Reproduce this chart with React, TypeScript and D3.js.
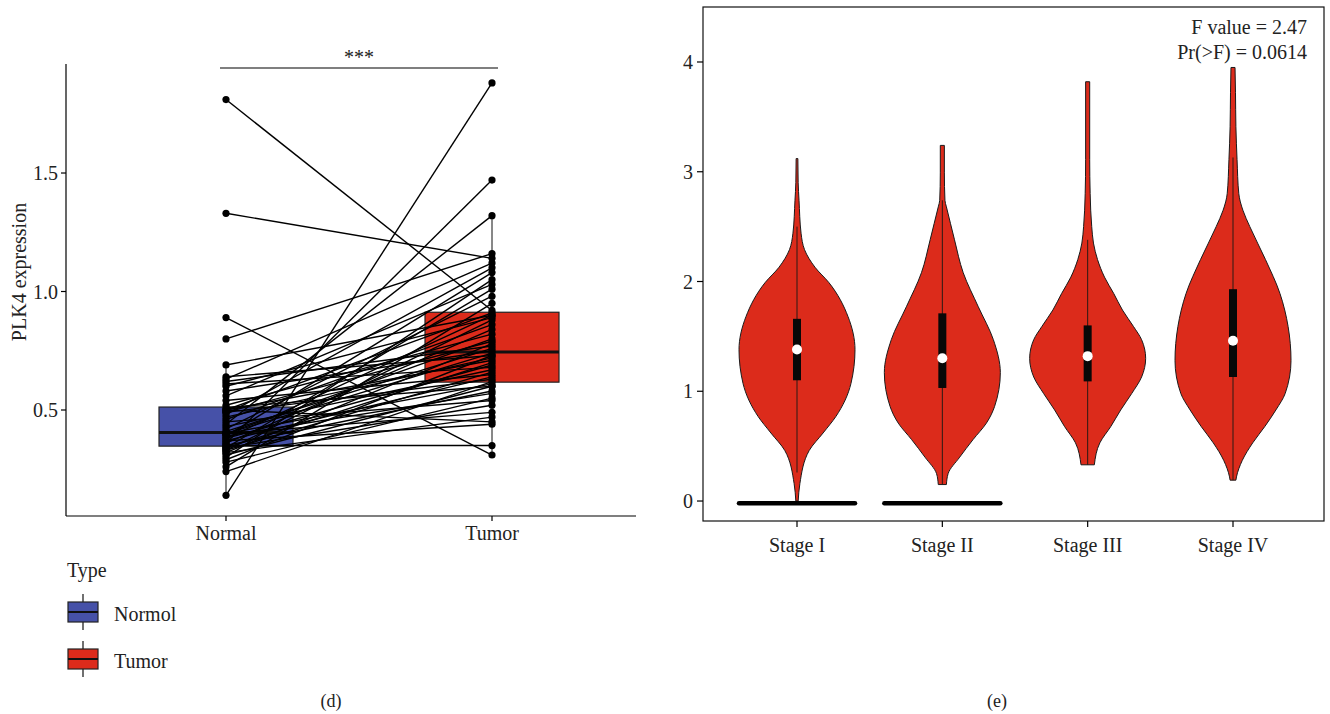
import React from "react";
import * as d3 from "d3";

// ---------- Panel (d): paired PLK4 expression ----------
const groups = ["Normal", "Tumor"];
const normalExpr = [1.81, 1.33, 0.89, 0.80, 0.14, 0.36, 0.44, 0.35, 0.24, 0.26, 0.28, 0.29, 0.30, 0.31, 0.32, 0.32, 0.33, 0.33, 0.34, 0.34, 0.34, 0.35, 0.36, 0.37, 0.37, 0.38, 0.38, 0.39, 0.39, 0.40, 0.40, 0.40, 0.40, 0.41, 0.42, 0.43, 0.45, 0.46, 0.47, 0.48, 0.49, 0.49, 0.50, 0.50, 0.50, 0.51, 0.52, 0.54, 0.56, 0.58, 0.60, 0.61, 0.62, 0.63, 0.64, 0.69];
const tumorExpr = [0.92, 1.14, 0.31, 1.16, 1.88, 1.47, 1.32, 0.35, 0.62, 0.95, 0.55, 0.73, 1.05, 0.60, 0.78, 0.47, 0.88, 0.66, 0.52, 1.01, 0.70, 0.58, 0.84, 0.64, 0.44, 0.90, 0.69, 0.57, 1.08, 0.74, 0.61, 0.80, 0.49, 0.76, 0.98, 0.67, 0.54, 0.86, 0.72, 1.10, 0.63, 0.79, 0.45, 0.91, 0.71, 0.60, 0.82, 0.65, 1.03, 0.75, 0.89, 0.68, 0.77, 1.12, 0.73, 0.90];
const leftTicks = [0.5, 1.0, 1.5];
const legendLabels = ["Normol", "Tumor"];
const groupColors = ["#4651A8", "#DC2B1B"];

// ---------- Panel (e): violin by stage ----------
const stages = ["Stage I", "Stage II", "Stage III", "Stage IV"];
// density profiles: [value, relative half-width]
const densStageI = [[0, 0.02], [0.16, 0.05], [0.46, 0.21], [0.62, 0.45], [0.77, 0.67], [1.07, 0.93], [1.38, 1.0], [1.68, 0.88], [1.99, 0.55], [2.13, 0.31], [2.29, 0.13], [2.44, 0.07], [2.74, 0.035], [2.9, 0.02], [3.12, 0.015]];
const densStageII = [[0.15, 0.07], [0.25, 0.1], [0.4, 0.3], [0.56, 0.53], [0.71, 0.76], [0.86, 0.9], [1.17, 1.0], [1.47, 0.88], [1.77, 0.62], [2.08, 0.36], [2.38, 0.21], [2.53, 0.14], [2.68, 0.07], [2.74, 0.045], [2.99, 0.035], [3.24, 0.035]];
const densStageIII = [[0.33, 0.115], [0.53, 0.21], [0.68, 0.4], [0.83, 0.57], [0.98, 0.76], [1.13, 0.93], [1.3, 1.0], [1.47, 0.93], [1.59, 0.79], [1.74, 0.6], [1.89, 0.45], [2.04, 0.29], [2.2, 0.17], [2.35, 0.1], [2.5, 0.07], [2.8, 0.043], [3.11, 0.035], [3.82, 0.035]];
const densStageIV = [[0.19, 0.05], [0.22, 0.06], [0.37, 0.16], [0.53, 0.34], [0.68, 0.55], [0.83, 0.74], [0.98, 0.9], [1.28, 1.0], [1.59, 0.95], [1.89, 0.81], [2.2, 0.56], [2.5, 0.29], [2.65, 0.17], [2.8, 0.1], [3.11, 0.07], [3.41, 0.05], [3.72, 0.043], [3.95, 0.035]];
const stageQ1 = [1.1, 1.03, 1.09, 1.13];
const stageMedian = [1.38, 1.3, 1.32, 1.46];
const stageQ3 = [1.66, 1.71, 1.6, 1.93];
const stageWhiskerLo = [0.26, 0.15, 0.33, 0.19];
const stageWhiskerHi = [2.5, 2.74, 2.38, 3.13];
const zeroBarStages = ["Stage I", "Stage II"];
const zeroBarValue = -0.02;
const rightTicks = [0, 1, 2, 3, 4];
const fValueText = "F value = 2.47";
const pValueText = "Pr(>F) = 0.0614";

const FONT = "'Liberation Serif', 'Times New Roman', serif";

function boxStats(vals: number[]) {
  const s = [...vals].sort((a, b) => a - b);
  const q1 = d3.quantileSorted(s, 0.25)!;
  const med = d3.quantileSorted(s, 0.5)!;
  const q3 = d3.quantileSorted(s, 0.75)!;
  const iqr = q3 - q1;
  const lo = d3.min(s.filter((v) => v >= q1 - 1.5 * iqr))!;
  const hi = d3.max(s.filter((v) => v <= q3 + 1.5 * iqr))!;
  return { q1, med, q3, lo, hi };
}

export default function App() {
  // left panel scales
  const yL = d3.scaleLinear().domain([0.0527, 1.96]).range([516, 64]);
  const xL = d3.scalePoint<string>().domain(groups).range([226, 492]);
  const boxHalf = 67;
  const stats = [boxStats(normalExpr), boxStats(tumorExpr)];

  // right panel scales
  const yR = d3.scaleLinear().domain([-0.182, 4.501]).range([521, 7]);
  const xR = d3.scalePoint<string>().domain(stages).range([797, 1233]);
  const violinHalf = 58;
  const dens = [densStageI, densStageII, densStageIII, densStageIV];

  const violinPath = (cx: number, pts: number[][]) =>
    d3
      .area<number[]>()
      .y((d) => yR(d[0]))
      .x0((d) => cx - d[1] * violinHalf)
      .x1((d) => cx + d[1] * violinHalf)
      .curve(d3.curveMonotoneY)(pts) || "";

  const fs = 20;

  return (
    <svg width={1330} height={714} style={{ position: "absolute", left: 0, top: 0, background: "#fff" }} fontFamily={FONT}>
      {/* ===== Left panel ===== */}
      {groups.map((g, i) => {
        const st = stats[i];
        const cx = xL(g)!;
        return (
          <g key={g}>
            <line x1={cx} x2={cx} y1={yL(st.lo)} y2={yL(st.hi)} stroke="#111" strokeWidth={1} />
            <rect x={cx - boxHalf} y={yL(st.q3)} width={boxHalf * 2} height={yL(st.q1) - yL(st.q3)} fill={groupColors[i]} stroke="#222" strokeWidth={1.2} />
            <line x1={cx - boxHalf} x2={cx + boxHalf} y1={yL(st.med)} y2={yL(st.med)} stroke="#111" strokeWidth={3} />
          </g>
        );
      })}
      {normalExpr.map((v, i) => (
        <line key={"pl" + i} x1={xL("Normal")!} y1={yL(v)} x2={xL("Tumor")!} y2={yL(tumorExpr[i])} stroke="#000" strokeWidth={1.4} />
      ))}
      {normalExpr.map((v, i) => (
        <g key={"pt" + i}>
          <circle cx={xL("Normal")!} cy={yL(v)} r={3.6} fill="#000" />
          <circle cx={xL("Tumor")!} cy={yL(tumorExpr[i])} r={3.6} fill="#000" />
        </g>
      ))}
      <line x1={66} x2={66} y1={64} y2={516} stroke="#000" strokeWidth={1.2} />
      <line x1={66} x2={636} y1={516} y2={516} stroke="#000" strokeWidth={1.2} />
      {leftTicks.map((t) => (
        <g key={"lt" + t}>
          <line x1={61} x2={66} y1={yL(t)} y2={yL(t)} stroke="#000" strokeWidth={1.2} />
          <text x={58} y={yL(t)} dy="0.35em" textAnchor="end" fontSize={fs} fill="#222">
            {t.toFixed(1)}
          </text>
        </g>
      ))}
      {groups.map((g) => (
        <g key={"lx" + g}>
          <line x1={xL(g)!} x2={xL(g)!} y1={516} y2={521} stroke="#000" strokeWidth={1.2} />
          <text x={xL(g)!} y={540} textAnchor="middle" fontSize={fs} fill="#222">
            {g}
          </text>
        </g>
      ))}
      <text transform="translate(26,272) rotate(-90)" textAnchor="middle" fontSize={fs} fill="#222">
        PLK4 expression
      </text>
      <line x1={220} x2={498} y1={68} y2={68} stroke="#000" strokeWidth={1.2} />
      <text x={359} y={64} textAnchor="middle" fontSize={fs} fill="#222">
        ***
      </text>
      <text x={67} y={577} fontSize={fs} fill="#222">
        Type
      </text>
      {legendLabels.map((lab, i) => {
        const top = 602 + i * 47;
        return (
          <g key={"lg" + lab}>
            <line x1={83} x2={83} y1={top - 8} y2={top + 28} stroke="#111" strokeWidth={1.2} />
            <rect x={68} y={top} width={30} height={20} fill={groupColors[i]} stroke="#222" strokeWidth={1.2} />
            <line x1={68} x2={98} y1={top + 10} y2={top + 10} stroke="#111" strokeWidth={2} />
            <text x={114} y={top + 19} fontSize={fs} fill="#222">
              {lab}
            </text>
          </g>
        );
      })}
      <text x={331} y={707} textAnchor="middle" fontSize={18} fill="#222">
        (d)
      </text>

      {/* ===== Right panel ===== */}
      <rect x={703} y={7} width={621} height={514} fill="none" stroke="#111" strokeWidth={1.2} />
      {stages.map((s, i) => {
        const cx = xR(s)!;
        return (
          <g key={s}>
            <path d={violinPath(cx, dens[i])} fill="#DC2B1B" stroke="#1a1a1a" strokeWidth={1} />
            <line x1={cx} x2={cx} y1={yR(stageWhiskerLo[i])} y2={yR(stageWhiskerHi[i])} stroke="#2a1a14" strokeWidth={1} />
            <rect x={cx - 4} y={yR(stageQ3[i])} width={8} height={yR(stageQ1[i]) - yR(stageQ3[i])} fill="#080808" />
            <circle cx={cx} cy={yR(stageMedian[i])} r={5} fill="#fff" />
          </g>
        );
      })}
      {zeroBarStages.map((s) => {
        const cx = xR(s)!;
        return (
          <line key={"zb" + s} x1={cx - violinHalf} x2={cx + violinHalf} y1={yR(zeroBarValue)} y2={yR(zeroBarValue)} stroke="#000" strokeWidth={4.5} strokeLinecap="round" />
        );
      })}
      {rightTicks.map((t) => (
        <g key={"rt" + t}>
          <line x1={697} x2={703} y1={yR(t)} y2={yR(t)} stroke="#000" strokeWidth={1.2} />
          <text x={693} y={yR(t)} dy="0.35em" textAnchor="end" fontSize={fs} fill="#222">
            {t}
          </text>
        </g>
      ))}
      {stages.map((s) => (
        <g key={"rx" + s}>
          <line x1={xR(s)!} x2={xR(s)!} y1={521} y2={527} stroke="#000" strokeWidth={1.2} />
          <text x={xR(s)!} y={552} textAnchor="middle" fontSize={fs} fill="#222">
            {s}
          </text>
        </g>
      ))}
      <text x={1307} y={34} textAnchor="end" fontSize={fs} fill="#222">
        {fValueText}
      </text>
      <text x={1307} y={59} textAnchor="end" fontSize={fs} fill="#222">
        {pValueText}
      </text>
      <text x={997} y={707} textAnchor="middle" fontSize={18} fill="#222">
        (e)
      </text>
    </svg>
  );
}
